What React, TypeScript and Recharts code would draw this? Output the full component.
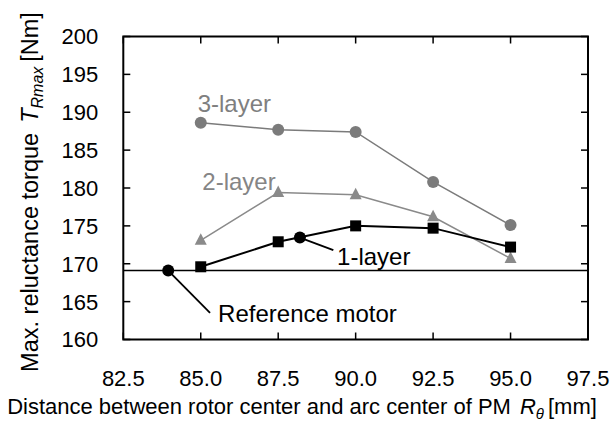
import { LineChart, Line, XAxis, YAxis, ReferenceLine, ReferenceDot, ReferenceArea } from 'recharts'

// R_theta [mm] at which each rotor variant was computed
const rValues = [85.0, 87.5, 90.0, 92.5, 95.0]
// max. reluctance torque [Nm]
const layer3 = [188.6, 187.7, 187.4, 180.8, 175.1]
const layer2 = [173.1, 179.4, 179.1, 176.2, 170.7]
const layer1 = [169.6, 172.9, 175.0, 174.7, 172.2]

const referenceR = 83.95
const referenceTorque = 169.1

const xTicks = [82.5, 85.0, 87.5, 90.0, 92.5, 95.0, 97.5]
const yTicks = [160, 165, 170, 175, 180, 185, 190, 195, 200]

// callout dot on the 1-layer curve
const calloutR = 88.2
const calloutTorque = 173.45

const leaderFrom = [
  { x: referenceR, y: referenceTorque },
  { x: calloutR, y: calloutTorque },
]
const leaderTo = [
  { x: 85.3, y: 163.5 },
  { x: 89.28, y: 171.8 },
]

const labelTexts = ['3-layer', '2-layer', '1-layer', 'Reference motor']
const labelR = [84.9, 85.05, 89.4, 85.56]
const labelTorque = [191.1, 180.9, 170.9, 163.5]
const labelColors = ['#7f7f7f', '#858585', '#000', '#000']

const GRAY3 = '#7b7b7b'
const GRAY2 = '#8a8a8a'
const TICK = 7

const toRows = (vals: number[]) => rValues.map((r, i) => ({ r, t: vals[i] }))

const Square = (p: any) => (
  <rect key={`sq-${p.index}`} x={p.cx - 5.5} y={p.cy - 5.5} width={11} height={11} fill="#000" />
)

const Triangle = (p: any) => (
  <polygon
    key={`tr-${p.index}`}
    points={`${p.cx},${p.cy - 7} ${p.cx - 6},${p.cy + 4.5} ${p.cx + 6},${p.cy + 4.5}`}
    fill={GRAY2}
  />
)

// inward tick marks on both ends of a reference line (left/right or top/bottom)
const HTicks = (p: any) => (
  <g>
    <line x1={p.x1} x2={p.x1 + TICK} y1={p.y1} y2={p.y1} stroke="#000" strokeWidth={1.5} />
    <line x1={p.x2 - TICK} x2={p.x2} y1={p.y2} y2={p.y2} stroke="#000" strokeWidth={1.5} />
  </g>
)
const VTicks = (p: any) => {
  const top = Math.min(p.y1, p.y2)
  const bottom = Math.max(p.y1, p.y2)
  return (
    <g>
      <line x1={p.x1} x2={p.x1} y1={top} y2={top + TICK} stroke="#000" strokeWidth={1.5} />
      <line x1={p.x1} x2={p.x1} y1={bottom - TICK} y2={bottom} stroke="#000" strokeWidth={1.5} />
    </g>
  )
}

const LeftTick = (p: any) => (
  <text x={p.x - 25} y={p.y} dy="0.36em" textAnchor="end" fontSize={22} fill="#000">
    {p.payload.value}
  </text>
)
const BottomTick = (p: any) => (
  <text x={p.x} y={p.y + 46} textAnchor="middle" fontSize={22} fill="#000">
    {Number(p.payload.value).toFixed(1)}
  </text>
)

export default function App() {
  return (
    <div style={{ position: 'absolute', left: 0, top: 0, fontFamily: '"Liberation Sans", Arial, sans-serif' }}>
      <LineChart width={610} height={423} margin={{ top: 36.5, right: 22, bottom: 0, left: 0 }}>
        <XAxis
          dataKey="r"
          type="number"
          domain={[82.5, 97.5]}
          ticks={xTicks}
          interval={0}
          height={83.5}
          tickSize={0}
          tickMargin={0}
          axisLine={false}
          tickLine={false}
          tick={BottomTick}
          label={{
            content: () => (
              <text x={302} y={414} textAnchor="middle" fontSize={22} fill="#000">
                Distance between rotor center and arc center of PM
                <tspan dx={9} fontStyle="italic">R</tspan>
                <tspan dy={5} fontSize={15} fontStyle="italic">θ</tspan>
                <tspan dy={-5} dx={4}>[mm]</tspan>
              </text>
            ),
          }}
        />
        <YAxis
          type="number"
          domain={[160, 200]}
          ticks={yTicks}
          interval={0}
          width={123.3}
          tickSize={0}
          tickMargin={0}
          axisLine={false}
          tickLine={false}
          tick={LeftTick}
          label={{
            content: () => (
              <text x={38} y={192} transform="rotate(-90 38 192)" textAnchor="middle" fontSize={23.5} fill="#000">
                Max. reluctance torque
                <tspan dx={10} fontStyle="italic">T</tspan>
                <tspan dy={5} fontSize={16} fontStyle="italic">Rmax</tspan>
                <tspan dy={-5} dx={5}>[Nm]</tspan>
              </text>
            ),
          }}
        />

        {yTicks.map((v) => (
          <ReferenceLine key={`yt-${v}`} y={v} shape={HTicks} />
        ))}
        {xTicks.map((v) => (
          <ReferenceLine key={`xt-${v}`} x={v} shape={VTicks} />
        ))}
        <ReferenceArea
          x1={82.5}
          x2={97.5}
          y1={160}
          y2={200}
          fill="none"
          fillOpacity={0}
          stroke="#000"
          strokeWidth={2}
          ifOverflow="visible"
        />
        <ReferenceLine y={referenceTorque} stroke="#000" strokeWidth={1.5} />

        <Line
          data={toRows(layer3)}
          dataKey="t"
          stroke={GRAY3}
          strokeWidth={1.5}
          dot={{ r: 6, fill: GRAY3, stroke: 'none' }}
          isAnimationActive={false}
        />
        <Line
          data={toRows(layer2)}
          dataKey="t"
          stroke={GRAY2}
          strokeWidth={1.5}
          dot={Triangle}
          isAnimationActive={false}
        />
        <Line
          data={toRows(layer1)}
          dataKey="t"
          stroke="#000"
          strokeWidth={2}
          dot={Square}
          isAnimationActive={false}
        />

        {leaderFrom.map((f, i) => (
          <ReferenceLine key={`ld-${i}`} segment={[f, leaderTo[i]]} stroke="#000" strokeWidth={1.8} />
        ))}
        <ReferenceDot x={referenceR} y={referenceTorque} r={6} fill="#000" stroke="none" />
        <ReferenceDot x={calloutR} y={calloutTorque} r={6} fill="#000" stroke="none" />

        {labelTexts.map((txt, i) => (
          <ReferenceDot
            key={txt}
            x={labelR[i]}
            y={labelTorque[i]}
            r={0}
            fill="none"
            stroke="none"
            label={{ value: txt, position: 'right', offset: 0, fill: labelColors[i], fontSize: 24 }}
          />
        ))}
      </LineChart>
    </div>
  )
}
